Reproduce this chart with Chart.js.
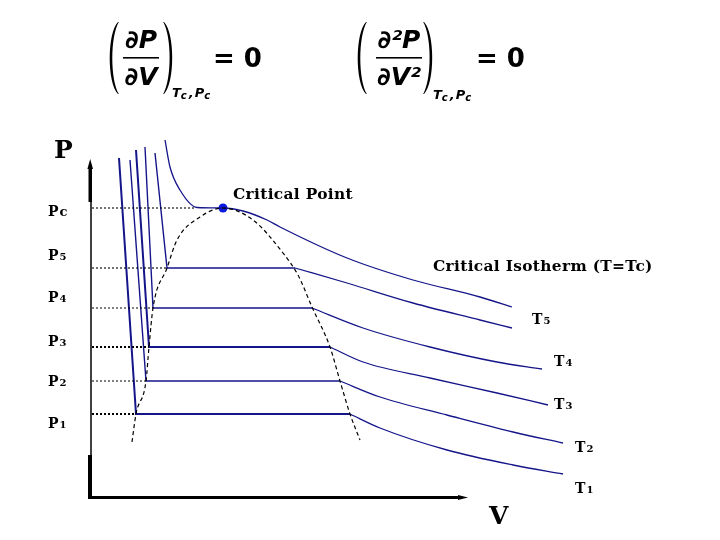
<!DOCTYPE html>
<html><head><meta charset="utf-8">
<script src="https://cdn.jsdelivr.net/npm/chart.js@4/dist/chart.umd.min.js"></script>
<style>html,body{margin:0;padding:0;background:#fff;}#wrap{width:720px;height:540px;}</style>
</head><body><div id="wrap"><canvas id="c" width="720" height="540"></canvas></div>
<script>
// ---------- data (V, P in arbitrary diagram units) ----------
const pressureLabels = ['Pc', 'P5', 'P4', 'P3', 'P2', 'P1'];
const pressureLevels = [28.9, 22.9, 18.9, 15.0, 11.6, 8.3];
const isothermLabels = ['T5', 'T4', 'T3', 'T2', 'T1'];
// liquid branch top point of each isotherm T5..T1
const liquidTopV = [6.5, 5.5, 4.6, 4.0, 2.9];
const liquidTopP = [34.4, 35.0, 34.7, 33.7, 33.9];
// liquid / gas ends of each plateau (T5..T1, at P5..P1)
const liquidEndV = [7.7, 6.3, 5.9, 5.6, 4.6];
const gasEndV = [20.5, 22.2, 24.0, 25.0, 26.0];
// gas branches T5..T1 (after the plateau)
const gasBranchV = [
  [20.5, 25.7, 32.3, 39.0, 42.2],
  [22.2, 27.3, 34.0, 40.7, 45.2],
  [24.0, 27.3, 34.0, 40.7, 45.8],
  [25.0, 29.0, 35.7, 42.3, 47.3],
  [26.0, 29.0, 35.7, 42.3, 47.3]
];
const gasBranchP = [
  [22.9, 21.4, 19.4, 17.7, 16.9],
  [18.9, 16.9, 15.0, 13.5, 12.8],
  [15.0, 13.5, 11.9, 10.4, 9.2],
  [11.6, 10.0, 8.2, 6.5, 5.4],
  [8.3, 6.9, 4.7, 3.2, 2.3]
];
// critical isotherm
const criticalIsoV = [7.5, 8.0, 9.0, 10.7, 13.3, 15.3, 17.7, 19.0, 25.7, 32.3, 39.0, 42.2];
const criticalIsoP = [35.7, 33.0, 30.7, 28.95, 28.9, 28.6, 27.7, 27.0, 23.9, 21.7, 20.0, 19.0];
const criticalV = 13.3, criticalP = 28.9;
const pcDottedEndV = 10.5;
// coexistence dome (dashed)
const domeV = [4.2, 4.6, 5.6, 5.9, 6.3, 7.7, 8.7, 11.0, 13.3, 16.3, 19.3, 20.8, 22.2, 24.0, 25.0, 26.0, 27.0];
const domeP = [5.5, 8.3, 11.6, 15.0, 18.9, 22.9, 25.7, 28.0, 28.9, 27.7, 24.4, 22.2, 19.0, 15.0, 11.6, 8.3, 5.7];

// ---------- build datasets ----------
const NAVY = '#15158a';
const zip = (vs, ps) => vs.map((v, i) => ({x: v, y: ps[i]}));
const datasets = [];
datasets.push({data: zip(domeV, domeP), borderColor: '#000', borderWidth: 1.2, borderDash: [4, 3], cubicInterpolationMode: 'monotone'});
pressureLevels.forEach((p, i) => {
  const end = i === 0 ? pcDottedEndV : liquidEndV[i - 1];
  datasets.push({data: [{x: 0.2, y: p}, {x: end, y: p}], borderColor: '#000', borderWidth: (i === 3 || i === 5) ? 1.8 : 1.1, borderDash: [2, 2]});
});
isothermLabels.forEach((t, i) => {
  const p = pressureLevels[i + 1];
  datasets.push({data: [{x: liquidTopV[i], y: liquidTopP[i]}, {x: liquidEndV[i], y: p}, {x: gasEndV[i], y: p}], borderColor: NAVY, borderWidth: (i === 2 || i === 4) ? 2 : 1.4, tension: 0});
  datasets.push({data: zip(gasBranchV[i], gasBranchP[i]), borderColor: NAVY, borderWidth: 1.3, cubicInterpolationMode: 'monotone'});
});
datasets.push({data: zip(criticalIsoV, criticalIsoP), borderColor: NAVY, borderWidth: 1.3, cubicInterpolationMode: 'monotone'});
datasets.push({data: [{x: criticalV, y: criticalP}], showLine: false, pointRadius: 4.5, backgroundColor: '#0a18e0', borderWidth: 0});

// ---------- decorations ----------
const SERIF = '"DejaVu Serif", "Liberation Serif", serif';
const SANS = '"DejaVu Sans", "Liberation Sans", sans-serif';
function subLabel(ctx, text, x, y, big, small) {
  ctx.textAlign = 'left'; ctx.textBaseline = 'alphabetic';
  ctx.font = 'bold ' + big + 'px ' + SERIF;
  ctx.fillText(text[0], x, y);
  const w = ctx.measureText(text[0]).width;
  const rest = text.slice(1);
  const isDigit = /\d/.test(rest);
  ctx.font = 'bold ' + (isDigit ? small : big - 1) + 'px ' + SERIF;
  ctx.fillText(rest, x + w + 1, y);
}
function wideText(ctx, text, x, y) {
  ctx.save();
  ctx.translate(x, y);
  ctx.scale(1.1, 1);
  ctx.font = 'bold 14px ' + SERIF;
  ctx.letterSpacing = '0.3px';
  ctx.textAlign = 'left'; ctx.textBaseline = 'middle';
  ctx.fillText(text, 0, 0);
  ctx.restore();
}
function paren(ctx, xi, xo, top, bot) {
  const h = bot - top, d = xo < xi ? 3.2 : -3.2;
  ctx.beginPath();
  ctx.moveTo(xi, top);
  ctx.bezierCurveTo(xo, top + h * 0.15, xo, bot - h * 0.15, xi, bot);
  ctx.lineTo(xi + (xo < xi ? 0.8 : -0.8), bot);
  ctx.bezierCurveTo(xo + d, bot - h * 0.2, xo + d, top + h * 0.2, xi + (xo < xi ? 0.8 : -0.8), top);
  ctx.closePath();
  ctx.fill();
}
function equation(ctx, cx, num, den, lx, rx, subX, subY, eqX) {
  ctx.fillStyle = '#000';
  ctx.textAlign = 'center'; ctx.textBaseline = 'middle';
  ctx.font = 'bold italic 25px ' + SANS;
  ctx.fillText(num, cx, 41);
  ctx.fillText(den, cx, 78);
  ctx.fillRect(cx - 18 - (num.length > 2 ? 5 : 0), 57, 36 + (num.length > 2 ? 10 : 0), 1.6);
  paren(ctx, lx + 8, lx - 3, 22, 94);
  paren(ctx, rx - 8, rx + 3, 22, 94);
  // subscript Tc ,Pc
  ctx.textAlign = 'left'; ctx.textBaseline = 'alphabetic';
  ctx.font = 'bold italic 13px ' + SANS;
  let x = subX;
  ctx.fillText('T', x, subY); x += ctx.measureText('T').width;
  ctx.font = 'bold italic 10px ' + SANS;
  ctx.fillText('c', x, subY + 2); x += ctx.measureText('c').width + 2;
  ctx.font = 'bold italic 13px ' + SANS;
  ctx.fillText(',', x, subY); x += ctx.measureText(',').width + 1;
  ctx.fillText('P', x, subY); x += ctx.measureText('P').width;
  ctx.font = 'bold italic 10px ' + SANS;
  ctx.fillText('c', x, subY + 2);
  ctx.font = 'bold 26px ' + SANS;
  ctx.textBaseline = 'middle';
  ctx.fillText('= 0', eqX, 60);
}
const decor = {
  id: 'decor',
  beforeDatasetsDraw(chart) {
    const {ctx, scales: {x, y}} = chart;
    const x0 = x.getPixelForValue(0), y0 = y.getPixelForValue(0);
    ctx.save();
    ctx.fillStyle = '#000'; ctx.strokeStyle = '#000';
    // thin y-axis
    ctx.lineWidth = 1.5;
    ctx.beginPath(); ctx.moveTo(x0 + 1, y0); ctx.lineTo(x0 + 1, y.getPixelForValue(30)); ctx.stroke();
    // thick upper shaft with arrow
    const yTip = y.getPixelForValue(33.8), yShaft = y.getPixelForValue(29.5);
    ctx.fillRect(x0 - 1.5, yTip + 8, 3.5, yShaft - yTip - 8);
    ctx.beginPath(); ctx.moveTo(x0 + 0.2, yTip); ctx.lineTo(x0 + 3, yTip + 10); ctx.lineTo(x0 - 2.6, yTip + 10); ctx.closePath(); ctx.fill();
    // thick lower part
    const yLow = y.getPixelForValue(4.2);
    ctx.fillRect(x0 - 2, yLow, 4, y0 - yLow + 2);
    // x axis
    const xEnd = x.getPixelForValue(37.8);
    ctx.fillRect(x0 - 2, y0 - 1, xEnd - x0 - 6, 3);
    ctx.beginPath(); ctx.moveTo(xEnd, y0 + 0.5); ctx.lineTo(xEnd - 10, y0 - 2); ctx.lineTo(xEnd - 10, y0 + 3); ctx.closePath(); ctx.fill();
    ctx.restore();
  },
  afterDraw(chart) {
    const {ctx} = chart;
    ctx.save();
    ctx.fillStyle = '#000';
    // axis titles
    ctx.textBaseline = 'middle'; ctx.textAlign = 'left';
    ctx.font = 'bold 25px ' + SERIF;
    ctx.fillText('P', 54, 151);
    ctx.fillText('V', 489, 517);
    // pressure labels
    const labelY = [216, 260, 302, 346, 386, 428];
    pressureLabels.forEach((t, i) => subLabel(ctx, t, 48, labelY[i], 14, 10));
    // isotherm labels
    const tPos = [[532, 324], [554, 366], [554, 409], [575, 452], [575, 493]];
    isothermLabels.forEach((t, i) => subLabel(ctx, t, tPos[i][0], tPos[i][1], 14, 10));
    wideText(ctx, 'Critical Point', 233, 195);
    wideText(ctx, 'Critical Isotherm (T=Tc)', 433, 267);
    // equations
    equation(ctx, 141, '\u2202P', '\u2202V', 110, 172, 172, 97, 213);
    equation(ctx, 399, '\u2202\u00B2P', '\u2202V\u00B2', 358, 432, 433, 99, 476);
    ctx.restore();
  }
};

new Chart(document.getElementById('c'), {
  type: 'scatter',
  data: {datasets: datasets.map(d => Object.assign({showLine: true, pointRadius: 0, fill: false}, d))},
  options: {
    responsive: false, animation: false, devicePixelRatio: 1,
    layout: {padding: {left: 90, right: 30, top: 140, bottom: 43}},
    plugins: {legend: {display: false}, tooltip: {enabled: false}},
    scales: {
      x: {type: 'linear', min: 0, max: 60, display: false},
      y: {type: 'linear', min: 0, max: 35.7, display: false}
    }
  },
  plugins: [decor]
});
</script>
</body></html>
